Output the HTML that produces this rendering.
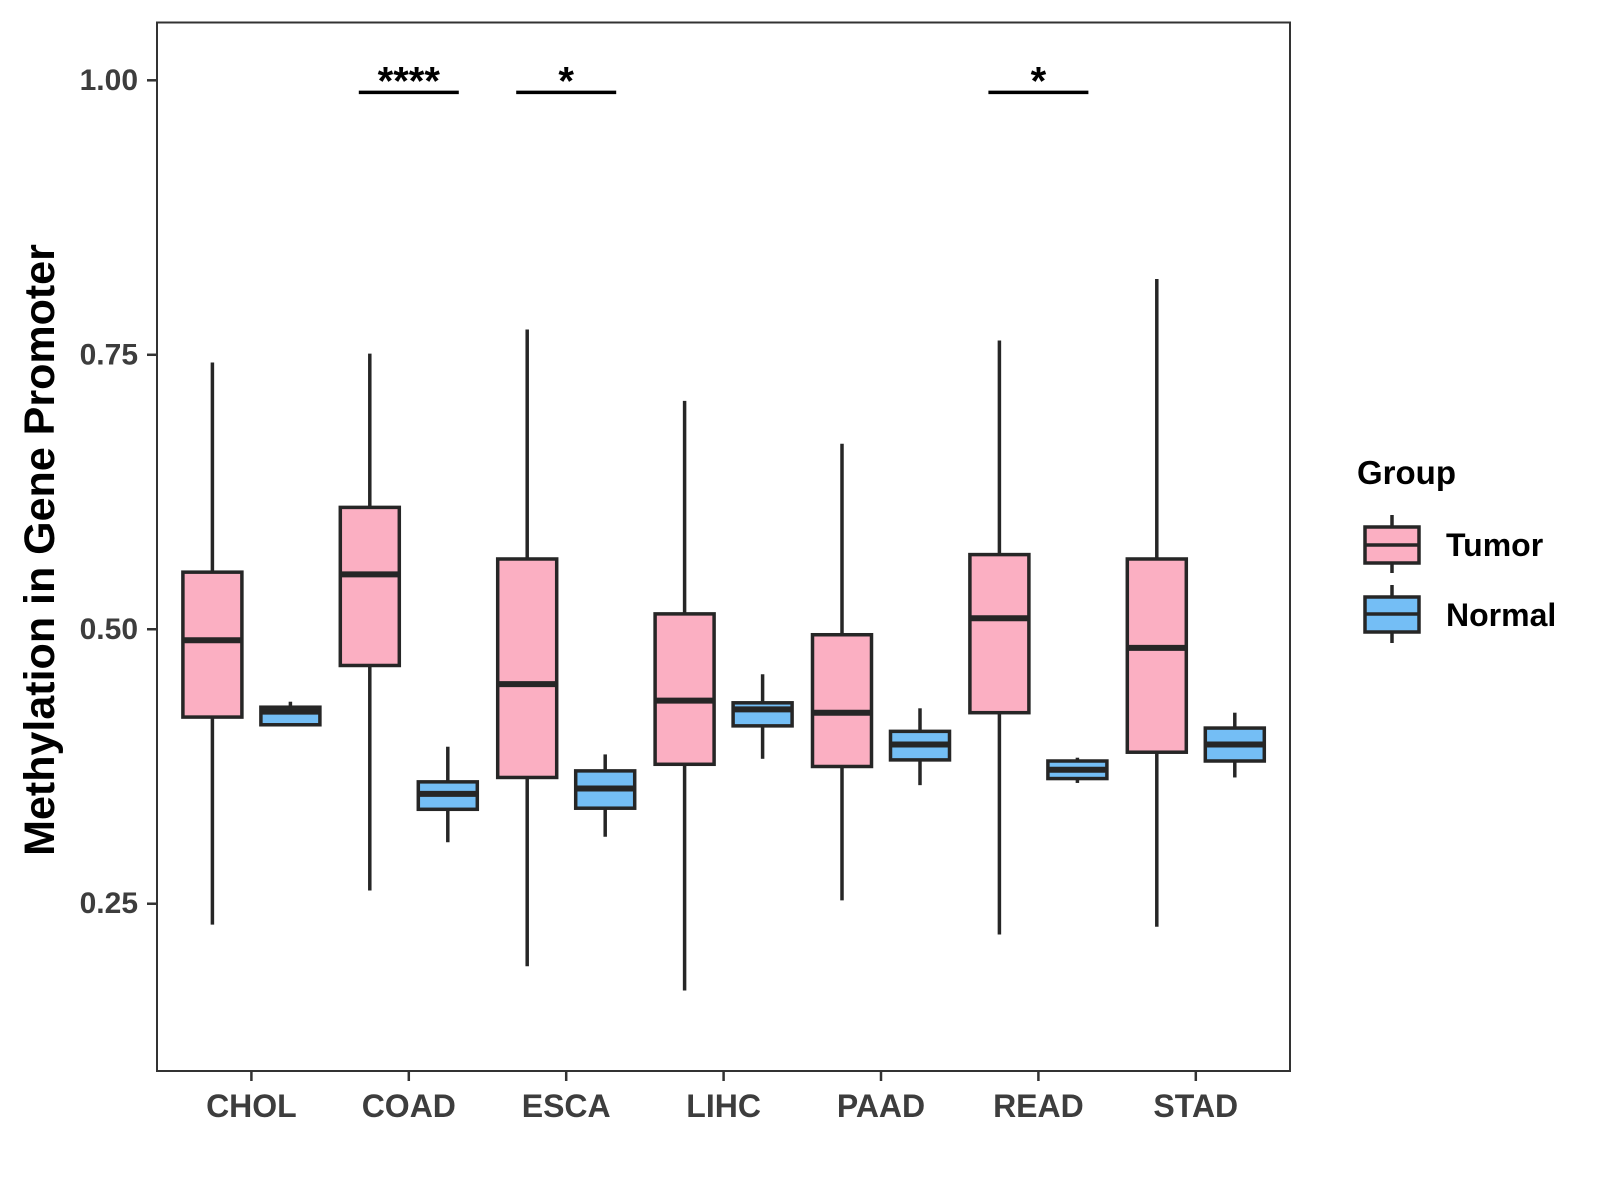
<!DOCTYPE html>
<html><head><meta charset="utf-8"><style>
body{margin:0;background:#fff}
svg{display:block;font-family:"Liberation Sans",Arial,sans-serif}
</style></head><body>
<svg id="chart" width="1600" height="1200" viewBox="0 0 1600 1200">
<rect x="157" y="22.5" width="1133" height="1048.5" fill="#fff" stroke="#333" stroke-width="2"/>
<g id="yaxis"></g>
<g id="xaxis"></g>
<g id="boxes"></g>
<g id="sig"></g>
<text x="40" y="550" transform="rotate(-90 40 550)" text-anchor="middle" dominant-baseline="central" font-size="43" font-weight="bold" fill="#000">Methylation in Gene Promoter</text>
<g>
<text x="1357" y="484" font-size="33" font-weight="bold">Group</text>
<g>
<line x1="1392" y1="515" x2="1392" y2="573" stroke="#262626" stroke-width="3.5"/>
<rect x="1365" y="527" width="54" height="36" fill="#FBAFC2" stroke="#262626" stroke-width="3.5"/>
<line x1="1365" y1="545" x2="1419" y2="545" stroke="#262626" stroke-width="3.5"/>
<text x="1446" y="556" font-size="32" font-weight="bold">Tumor</text>
</g>
<g>
<line x1="1392" y1="585" x2="1392" y2="643" stroke="#262626" stroke-width="3.5"/>
<rect x="1365" y="597" width="54" height="35" fill="#74BEF5" stroke="#262626" stroke-width="3.5"/>
<line x1="1365" y1="614" x2="1419" y2="614" stroke="#262626" stroke-width="3.5"/>
<text x="1446" y="626" font-size="32" font-weight="bold">Normal</text>
</g>
</g>
</svg>
<script>
const categories = ["CHOL","COAD","ESCA","LIHC","PAAD","READ","STAD"];
const tumorLow = [0.231,0.262,0.193,0.171,0.253,0.222,0.229];
const tumorQ1  = [0.420,0.467,0.365,0.377,0.375,0.424,0.388];
const tumorMed = [0.490,0.550,0.450,0.435,0.424,0.510,0.483];
const tumorQ3  = [0.552,0.611,0.564,0.514,0.495,0.568,0.564];
const tumorHigh= [0.743,0.751,0.773,0.708,0.669,0.763,0.819];
const normalLow = [0.413,0.306,0.311,0.382,0.358,0.360,0.365];
const normalQ1  = [0.413,0.336,0.337,0.412,0.381,0.364,0.380];
const normalMed = [0.425,0.350,0.355,0.427,0.395,0.372,0.395];
const normalQ3  = [0.429,0.361,0.371,0.433,0.407,0.380,0.410];
const normalHigh= [0.434,0.393,0.386,0.459,0.428,0.383,0.424];
const yTicks = [0.25,0.50,0.75,1.00];
const yTickLabels = ["0.25","0.50","0.75","1.00"];
const sigCats = ["COAD","ESCA","READ"];
const sigLabels = ["****","*","*"];
const sigY = 0.989;

const NS="http://www.w3.org/2000/svg";
const y = v => 80.3 + (1 - v) * 1097.9;
const x = i => 251.4 + i * 157.4;
function mk(tag, attrs, parent){const e=document.createElementNS(NS,tag);for(const k in attrs)e.setAttribute(k,attrs[k]);parent.appendChild(e);return e;}
const ya=document.getElementById('yaxis'), xa=document.getElementById('xaxis'), bx=document.getElementById('boxes'), sg=document.getElementById('sig');
yTicks.forEach((t,i)=>{
  const l=mk('line',{x1:147,x2:157,y1:y(t),y2:y(t),stroke:'#333','stroke-width':2.5},ya);
  
  
  const tx=mk('text',{x:138,y:y(t),'text-anchor':'end','dominant-baseline':'central','font-size':30,'font-weight':'bold',fill:'#3d3d3d'},ya);
  tx.textContent=yTickLabels[i];
  
  
});
categories.forEach((c,i)=>{
  const l=mk('line',{x1:x(i),x2:x(i),y1:1071,y2:1081,stroke:'#333','stroke-width':2.5},xa);
  
  
  const tx=mk('text',{x:x(i),y:1106,'text-anchor':'middle','dominant-baseline':'central','font-size':32,'font-weight':'bold',fill:'#3d3d3d'},xa);
  tx.textContent=c;
  
  
});
function box(cx,lo,q1,md,q3,hi,fill,name){
  const g=mk('g',{},bx);
  
  
  const hw=29.5;
  mk('line',{x1:cx,x2:cx,y1:y(hi),y2:y(q3),stroke:'#262626','stroke-width':3.5},g);
  mk('line',{x1:cx,x2:cx,y1:y(q1),y2:y(lo),stroke:'#262626','stroke-width':3.5},g);
  mk('rect',{x:cx-hw,y:y(q3),width:2*hw,height:Math.max(y(q1)-y(q3),0.5),fill:fill,stroke:'#262626','stroke-width':3.5},g);
  mk('line',{x1:cx-hw,x2:cx+hw,y1:y(md),y2:y(md),stroke:'#262626','stroke-width':6},g);
}
categories.forEach((c,i)=>{
  box(x(i)-39,tumorLow[i],tumorQ1[i],tumorMed[i],tumorQ3[i],tumorHigh[i],'#FBAFC2','box-tumor-'+c.toLowerCase());
  box(x(i)+39,normalLow[i],normalQ1[i],normalMed[i],normalQ3[i],normalHigh[i],'#74BEF5','box-normal-'+c.toLowerCase());
});
sigCats.forEach((c,k)=>{
  const i=categories.indexOf(c);
  const l=mk('line',{x1:x(i)-50,x2:x(i)+50,y1:y(sigY),y2:y(sigY),stroke:'#000','stroke-width':3.5},sg);
  
  
  const t=mk('text',{x:x(i),y:y(sigY)+2,'text-anchor':'middle','font-size':40,'font-weight':'bold',fill:'#000'},sg);
  t.textContent=sigLabels[k];
  
  
});
</script>
</body></html>
